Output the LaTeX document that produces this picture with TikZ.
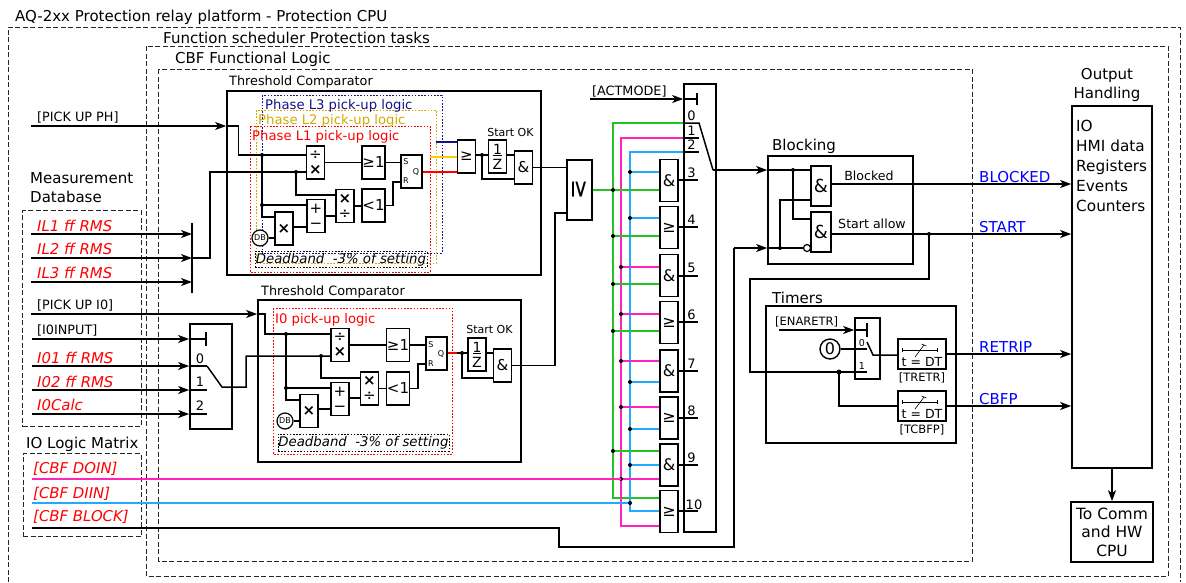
\documentclass[tikz,border=0pt]{standalone}
\usepackage{fontspec}
\setmainfont{DejaVu Sans}
\usetikzlibrary{arrows.meta, calc}

\definecolor{colGw}{HTML}{22C322}
\definecolor{colMw}{HTML}{FF22BB}
\definecolor{colBw}{HTML}{22AAFF}
\definecolor{navyline}{HTML}{10108C}
\definecolor{goldline}{HTML}{FFCC00}
\definecolor{goldtext}{HTML}{D4AA00}

\tikzset{
  wire/.style={line width=1.5pt},
  arr/.style={-{Stealth[length=11pt,width=8pt,inset=3pt]}},
  box/.style={draw, line width=1.7pt, inner sep=0pt, align=center},
  gate/.style={box, fill=white, minimum width=18pt, minimum height=33pt, font=\fontsize{15}{15}\selectfont},
  widegate/.style={gate, minimum width=23pt},
  fracgate/.style={gate, font=\fontsize{14}{14}\selectfont},
  muxgate/.style={gate, minimum height=42pt, font=\fontsize{16}{16}\selectfont},
  andgate/.style={gate, minimum width=20pt, minimum height=40pt, font=\fontsize{18}{18}\selectfont},
  dashframe/.style={draw=black!85, line width=1pt, dash pattern=on 5pt off 2.5pt},
  dotframe/.style={line width=0.8pt, dash pattern=on 1.6pt off 1.6pt},
  lbl/.style={anchor=west, inner sep=0pt, yshift=-1pt, font=\fontsize{12.8}{12.8}\selectfont},
  toplbl/.style={lbl, font=\fontsize{15}{15}\selectfont},
  biglbl/.style={lbl, font=\fontsize{15}{15}\selectfont},
  phaselbl/.style={lbl, yshift=-2pt, font=\fontsize{13.2}{13.2}\selectfont},
  redlbl/.style={lbl, red, font=\fontsize{14.9}{14.9}\selectfont\itshape},
  outlbl/.style={lbl, blue, font=\fontsize{15}{15}\selectfont},
  numlbl/.style={inner sep=0pt, font=\fontsize{13}{13}\selectfont},
  tiny/.style={inner sep=0pt, font=\fontsize{8}{8}\selectfont},
  bandbox/.style={dotframe, draw=black, inner sep=0pt, font=\fontsize{13.3}{13.3}\selectfont\itshape},
  dbcirc/.style={circle, draw, line width=1.2pt, fill=white, minimum size=16pt, inner sep=0pt, font=\fontsize{8}{8}\selectfont},
}

\begin{document}
\begin{tikzpicture}[x=1pt,y=-1pt]
\useasboundingbox (0,0) rectangle (1186,582);

% frames
\draw[dashframe] (8,582) -- (8,27) -- (1180,27) -- (1180,582);
\draw[dashframe] (146,46) rectangle (1168,576);
\draw[dashframe] (158.5,69) rectangle (972,561);
\node[dashframe, minimum width=118.5pt, minimum height=216pt, inner sep=0pt] (measbox) at (81.75,318.75) {};
\node[dashframe, minimum width=118pt, minimum height=83pt, inner sep=0pt] (iobox) at (82,495) {};
\node[toplbl] (titleA) at (15,16) {AQ-2xx Protection relay platform - Protection CPU};
\node[toplbl] (titleB) at (163,37) {Function scheduler Protection tasks};
\node[toplbl] (titleC) at (175,58) {CBF Functional Logic};
\node[biglbl, align=left] (meastxt) at (30,187) {Measurement\\[4pt]Database};
\node[biglbl] (iotxt) at (26,443) {IO Logic Matrix};

% left labels
\node[lbl] (pickphtxt) at (37,116) {[PICK UP PH]};
\foreach \nm/\yy/\txt in {la/225/IL1 ff RMS, lb/248/IL2 ff RMS, lc/272/IL3 ff RMS, ld/357/I01 ff RMS, le/381/I02 ff RMS, lf/404/I0Calc}
  \node[redlbl] (\nm) at (37,\yy) {\txt};
\node[lbl] (picki0txt) at (37,304) {[PICK UP I0]};
\node[lbl] (i0inputtxt) at (37,329) {[I0INPUT]};
\foreach \nm/\yy/\txt in {da/468/{[CBF DOIN]}, db/493/{[CBF DIIN]}, dc/516/{[CBF BLOCK]}}
  \node[redlbl] (\nm) at (33,\yy) {\txt};

% upper comparator
\node[box, minimum width=314pt, minimum height=184pt] (tcA) at (384,183) {};
\node[lbl] (tcAtxt) at (229,81) {Threshold Comparator};
\draw[dotframe, navyline] (262,95) rectangle (442,253);
\draw[dotframe, goldtext] (256,110) rectangle (436,263);
\draw[dotframe, red] (250,126) rectangle (430,272);
\node[phaselbl, navyline] (l3txt) at (265,103) {Phase L3 pick-up logic};
\node[phaselbl, goldtext] (l2txt) at (258,118) {Phase L2 pick-up logic};
\node[phaselbl, red] (l1txt) at (252,134) {Phase L1 pick-up logic};
\node[bandbox, minimum width=172pt, minimum height=16pt] (dbA) at (341,259.5) {Deadband\ \ -3\% of setting};

\node[gate] (divA) at (315.5,162.5) {÷\\\textbf{×}};
\node[gate] (mulA) at (284,228.5) {\textbf{×}};
\node[gate] (subA) at (316,216) {+\\−};
\node[gate] (mdA) at (345,206) {\textbf{×}\\÷};
\node[widegate] (geA) at (373.5,162.5) {≥1};
\node[widegate] (ltA) at (373.5,205.5) {<1};
\node[gate, minimum width=21pt] (srA) at (411.5,171.5) {};
\node[gate] (orA) at (466.5,156.5) {≥};
\node[fracgate] (invA) at (497.5,156.5) {\underline{1}\\[1pt]Z};
\node[gate] (andA) at (523.5,167.5) {\&};
\node[dbcirc] (cdbA) at (260,238) {DB};
\node[tiny] (sA) at (406,162) {S};
\node[tiny] (rA) at (406,181) {R};
\node[tiny] (qA) at (416,172) {Q};
\node[inner sep=0pt, font=\fontsize{11}{11}\selectfont] (okA) at (510.5,132) {Start OK};

\coordinate (pickph) at (31,126);
\coordinate (jA0) at (238.5,155);
\coordinate (jA1) at (262,155);
\coordinate (jA2) at (262,205);
\coordinate (jA3) at (296,172);
\coordinate (jA4) at (482,155);
\coordinate (busI) at (192,223);
\coordinate (busIb) at (192,293);
\draw[wire, arr] (pickph) -- (tcA.west |- pickph);
\draw[wire] (tcA.west |- pickph) -| (jA0) -- (divA.west |- jA0);
\draw[wire] (jA1) |- (mulA.west |- 0,217);
\fill (jA1) circle (2pt) (jA2) circle (2pt) (jA3) circle (2pt) (jA4) circle (2pt);
\draw[wire] (jA2) -- (subA.west |- jA2);
\draw[wire] (busI) -- (busIb);
\foreach \yy/\nm in {234/ila, 258/ilb, 282/ilc}{
  \coordinate (\nm) at (31,\yy);
  \draw[wire, arr] (\nm) -- (busI |- \nm);
}
\draw[wire] (busI |- ilb) -- (210,258) -- (210,172) -- (divA.west |- jA3);
\draw[wire] (jA3) |- (mdA.west |- 0,195);
\draw[wire] (cdbA) -- (mulA.west |- cdbA);
\draw[wire] (mulA.east |- 0,227) -- (subA.west |- 0,227);
\draw[wire] (subA.east |- 0,216) -- (mdA.west |- 0,216);
\draw[wire] (divA.east) -- (geA.west);
\draw[wire] (geA.east) -- (srA.west |- geA);
\draw[wire] (mdA.east) -- (ltA.west |- mdA);
\draw[wire] (ltA.east) -- (393,205.5) |- (srA.west |- 0,182);
\draw[wire, red] (srA.east |- 0,172) -- (orA.west |- 0,172);
\draw[wire, goldline] (430,157) -- (orA.west |- 0,157);
\draw[wire, navyline] (436,142) -- (orA.west |- 0,142);
\draw[wire] (orA.east |- jA4) -- (invA.west |- jA4);
\draw[wire] (jA4) |- (andA.west |- 0,179);
\draw[wire] (invA.east |- jA4) -- (andA.west |- jA4);

% lower comparator
\node[box, minimum width=263pt, minimum height=162pt] (tcB) at (389.5,381) {};
\node[lbl] (tcBtxt) at (261,291) {Threshold Comparator};
\draw[dotframe, red] (273,308) rectangle (452.5,454);
\node[phaselbl, red] (i0txt) at (275,317) {I0 pick-up logic};
\node[bandbox, minimum width=171pt, minimum height=17pt] (dbB) at (363.5,442.5) {Deadband\ \ -3\% of setting};

\node[gate] (divB) at (340,345) {÷\\\textbf{×}};
\node[gate] (mulB) at (309,411) {\textbf{×}};
\node[gate] (subB) at (340,399) {+\\−};
\node[gate] (mdB) at (369.5,388.5) {\textbf{×}\\÷};
\node[widegate] (geB) at (398,345) {≥1};
\node[widegate] (ltB) at (398,388.5) {<1};
\node[gate, minimum width=21pt] (srB) at (436.5,353.5) {};
\node[fracgate] (invB) at (477,354.5) {\underline{1}\\[1pt]Z};
\node[gate] (andB) at (502.5,365.5) {\&};
\node[dbcirc] (cdbB) at (285,421) {DB};
\node[tiny] (sB) at (431,345) {S};
\node[tiny] (rB) at (431,364) {R};
\node[tiny] (qB) at (441,354) {Q};
\node[inner sep=0pt, font=\fontsize{11}{11}\selectfont] (okB) at (489.5,329) {Start OK};

% I0 selector
\node[box, minimum width=42pt, minimum height=105pt] (selI) at (211,376.5) {};
\node[numlbl] (sel0) at (200,359) {0};
\node[numlbl] (sel1) at (200,382) {1};
\node[numlbl] (sel2) at (200,406) {2};
\coordinate (pickio) at (31,314);
\coordinate (selin) at (32,339);
\coordinate (jB0) at (265,334);
\coordinate (jB1) at (286,334);
\coordinate (jB2) at (286,388);
\coordinate (jB3) at (321,356);
\coordinate (jB4) at (462,353);
\draw[wire, arr] (pickio) -- (tcB.west |- pickio);
\draw[wire] (tcB.west |- pickio) -| (jB0) -- (divB.west |- jB0);
\draw[wire, arr] (selin) -- (selI.west |- selin);
\draw[wire] (selI.west |- selin) -- (206,339);
\draw[wire] (206,332) -- (206,346);
\foreach \yy/\nm in {366/ina, 390/inb, 414/inc}{
  \coordinate (\nm) at (32,\yy);
  \draw[wire, arr] (\nm) -- (selI.west |- \nm);
  \draw[wire] (selI.west |- \nm) -- (207,\yy);
}
\draw[wire] (207,366) -- (222,387) -- (246,387) -- (246,356) -- (divB.west |- jB3);
\draw[wire] (jB1) |- (mulB.west |- 0,400);
\fill (jB1) circle (2pt) (jB2) circle (2pt) (jB3) circle (2pt) (jB4) circle (2pt);
\draw[wire] (jB2) -- (subB.west |- jB2);
\draw[wire] (jB3) |- (mdB.west |- 0,378);
\draw[wire] (cdbB) -- (mulB.west |- cdbB);
\draw[wire] (mulB.east |- 0,409) -- (subB.west |- 0,409);
\draw[wire] (subB.east |- 0,398) -- (mdB.west |- 0,398);
\draw[wire] (divB.east) -- (geB.west);
\draw[wire] (geB.east) -- (srB.west |- geB);
\draw[wire] (mdB.east) -- (ltB.west |- mdB);
\draw[wire] (ltB.east) -- (418,388.5) |- (srB.west |- 0,364);
\draw[wire, red] (srB.east |- jB4) -- (457,353);
\draw[wire] (457,353) -- (invB.west |- jB4);
\draw[wire] (jB4) |- (andB.west |- 0,378);
\draw[wire] (invB.east |- jB4) -- (andB.west |- jB4);

% big or and mode mux
\node[box, font=\fontsize{24}{24}\selectfont, minimum width=25pt, minimum height=60pt] (bigor) at (579.5,190) {\rotatebox{-90}{≥}};
\node[box, minimum width=32pt, minimum height=448pt] (mainmux) at (700,308) {};
\node[lbl] (actxt) at (592,90) {[ACTMODE]};
\coordinate (acin) at (590,99);
\draw[wire, arr] (acin) -- (mainmux.west |- acin);
\draw[wire] (mainmux.west |- acin) -- (697,99);
\draw[wire] (697,93) -- (697,105);
\draw[wire] (andA.east) -- (bigor.west |- andA);
\draw[wire] (andB.east) -- (555,365.5) |- (bigor.west |- 0,213);

\foreach \nm/\yy/\sym/\fnt/\yo in {g3/180.5/\&/muxgate/180, g4/227.5/≥/muxgate/227, g5/275.5/\&/muxgate/276, g6/322.5/≥/muxgate/322, g7/371/\&/muxgate/371, g8/418/≥/muxgate/418, g9/465/\&/muxgate/465, g10/511.5/≥/muxgate/511}{
  \node[\fnt] (\nm) at (669,\yy) {\sym};
  \draw[wire] (\nm.east |- 0,\yo) -- (698,\yo);
}
\foreach \yy/\nm in {116/0, 131/1, 145/2, 173/3, 220/4, 268/5, 315/6, 364/7, 411/8, 458/9}
  \node[numlbl] (num\nm) at (691.5,\yy) {\nm};
\node[numlbl] (num10) at (694,505) {10};

\coordinate (busGw) at (613,123);
\coordinate (busMw) at (621,138);
\coordinate (busBw) at (630,152);
\coordinate (busGe) at (613,498);
\coordinate (busMe) at (621,526);
\coordinate (busBe) at (630,511);
\draw[wire, colGw] (mainmux.west |- busGw) -- (busGw) -- (busGe) -- (g10.west |- busGe);
\draw[wire, colMw] (mainmux.west |- busMw) -- (busMw) -- (busMe) -- (g10.west |- busMe);
\draw[wire, colBw] (mainmux.west |- busBw) -- (busBw) -- (busBe) -- (g10.west |- busBe);
\draw[wire, colGw] (bigor.east) -- (busGw |- bigor);
\foreach \gt/\bs/\yy in {g3/Bw/172, g3/Gw/190, g4/Bw/218, g4/Gw/236, g5/Mw/267, g5/Gw/284, g6/Mw/314, g6/Gw/331, g7/Mw/361, g7/Bw/382, g8/Mw/407, g8/Bw/429, g9/Gw/451, g9/Bw/465, g9/Mw/479}{
  \draw[wire, color=col\bs] (bus\bs |- 0,\yy) -- (\gt.west |- 0,\yy);
  \fill (bus\bs |- 0,\yy) circle (2pt);
}
\coordinate (doin) at (32,479);
\coordinate (diin) at (32,503);
\coordinate (blin) at (32,528);
\draw[wire, colMw] (doin) -- (busMw |- doin);
\draw[wire, colBw] (diin) -- (busBw |- diin);
\fill (busBw |- diin) circle (2pt);
\draw[wire] (mainmux.west |- busGw) -- (699,123) -- (713,170);
\draw[wire] (mainmux.west |- busMw) -- (699,138);
\draw[wire] (mainmux.west |- busBw) -- (699,152);

% blocking
\node[box, minimum width=145pt, minimum height=108pt] (blockbox) at (840.5,210) {};
\node[biglbl] (blocktxt) at (772,145) {Blocking};
\node[andgate] (andbk) at (821,186) {\&};
\node[andgate] (andst) at (821,232) {\&};
\node[circle, draw, line width=1.2pt, fill=white, minimum size=7pt, inner sep=0pt] (notst) at (807,248) {};
\node[inner sep=0pt, font=\fontsize{12.6}{12.6}\selectfont] (blktxt) at (869,176) {Blocked};
\node[inner sep=0pt, font=\fontsize{12.6}{12.6}\selectfont] (alwtxt) at (872,224) {Start allow};
\coordinate (jC0) at (793,170);
\coordinate (jC1) at (780,248);
\coordinate (jC2) at (929,234);
\coordinate (muxout) at (713,170);
\coordinate (stin) at (734,248);
\draw[wire, arr] (muxout) -- (blockbox.west |- muxout);
\draw[wire] (blockbox.west |- muxout) -- (andbk.west |- muxout);
\draw[wire] (jC0) |- (andst.west |- 0,219);
\draw[wire] (blin) -- (559,528) -- (559,547) -- (734,547) -- (stin);
\draw[wire, arr] (stin) -- (blockbox.west |- stin);
\draw[wire] (blockbox.west |- stin) -- (notst.west);
\draw[wire] (jC1) |- (andbk.west |- 0,200);
\fill (jC0) circle (2pt) (jC1) circle (2pt) (jC2) circle (2pt);

% timers
\node[box, minimum width=190pt, minimum height=137pt] (timerbox) at (861,374.5) {};
\node[biglbl] (timertxt) at (772,297) {Timers};
\node[box, minimum width=25pt, minimum height=61pt] (minimux) at (867.5,348.5) {};
\node[inner sep=0pt, anchor=west, font=\fontsize{11.5}{11.5}\selectfont] (enatxt) at (775,322) {[ENARETR]};
\node[circle, draw, line width=1.4pt, fill=white, minimum size=20pt, inner sep=0pt, font=\fontsize{16}{16}\selectfont] (zero) at (830,349) {0};
\node[inner sep=0pt, font=\fontsize{9.5}{9.5}\selectfont] (m0) at (862,343) {0};
\node[inner sep=0pt, font=\fontsize{9.5}{9.5}\selectfont] (m1) at (862,366) {1};
\coordinate (enain) at (779,330);
\coordinate (jD0) at (839,372);
\draw[wire, arr] (enain) -- (minimux.west |- enain);
\draw[wire] (minimux.west |- enain) -- (867,330);
\draw[wire] (867,323) -- (867,337);
\draw[wire] (zero) -- (867,349);
\foreach \nm/\yy/\txt in {tretr/354/{[TRETR]}, tcbfp/406/{[TCBFP]}}{
  \node[box, fill=white, minimum width=48pt, minimum height=30pt] (\nm) at (922,\yy) {};
  \node[inner sep=0pt, font=\fontsize{12.5}{12.5}\selectfont] (\nm dt) at (922,\yy+7.5) {t = DT};
  \node[inner sep=0pt, font=\fontsize{11.5}{11.5}\selectfont] (\nm tag) at (922,\yy+24) {\txt};
  \draw[line width=0.6pt] (902,\yy-4) -- (937,\yy-4);
  \draw[line width=0.6pt] (902,\yy-6) -- (902,\yy-2);
  \draw[line width=0.6pt] (937,\yy-6) -- (937,\yy-2);
  \draw[line width=0.6pt] (915,\yy+3) -- (924,\yy-9) (921.5,\yy-10) -- (926.5,\yy-8);
}
\draw[wire] (867,342) -- (873,355) -- (tretr.west |- 0,355);
\draw[wire] (jC2) -- (929,279) -- (750,279) -- (750,372) -- (867,372);
\draw[wire] (jD0) |- (tcbfp.west);
\fill (jD0) circle (2.5pt);

% output handling
\node[box, minimum width=80pt, minimum height=362pt] (outbox) at (1112,287) {};
\node[inner sep=0pt, align=center, font=\fontsize{15}{15}\selectfont] (outtxt) at (1107,84.5) {Output\\[4pt]Handling};
\node[inner sep=0pt, align=left, anchor=north west, font=\fontsize{15.3}{15.3}\selectfont] (outlist) at (1076,120) {IO\\[4.7pt]HMI data\\[4.7pt]Registers\\[4.7pt]Events\\[4.7pt]Counters};
\node[box, minimum width=82pt, minimum height=60pt, font=\fontsize{15.5}{15.5}\selectfont] (commbox) at (1112,532) {To Comm\\[3pt]and HW\\[3pt]CPU};
\draw[wire, arr] (outbox.south) -- (commbox.north);
\draw[wire, arr] (andbk.east |- 0,184) -- (outbox.west |- 0,184);
\draw[wire, arr] (andst.east |- 0,234) -- (outbox.west |- 0,234);
\draw[wire, arr] (tretr.east) -- (outbox.west |- tretr);
\draw[wire, arr] (tcbfp.east) -- (outbox.west |- tcbfp);
\node[outlbl] (bltxt) at (979,176) {BLOCKED};
\node[outlbl] (sttxt) at (979,226) {START};
\node[outlbl] (rttxt) at (979,346) {RETRIP};
\node[outlbl] (cbtxt) at (979,398) {CBFP};
\end{tikzpicture}
\end{document}
